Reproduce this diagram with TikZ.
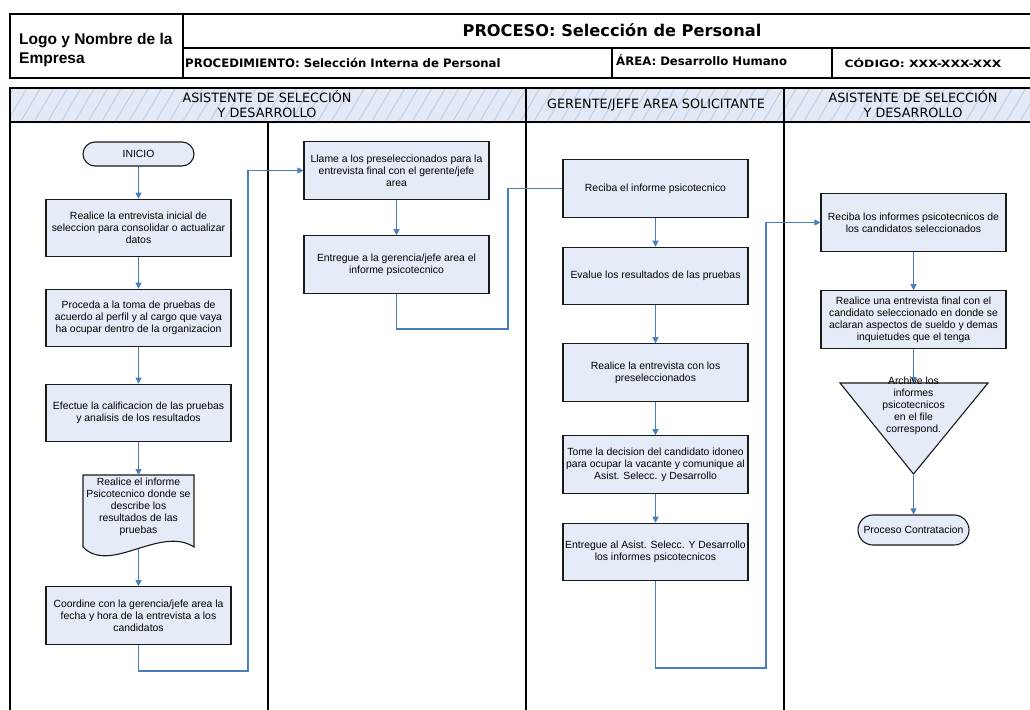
\documentclass[tikz,border=0pt]{standalone}
\usepackage{graphicx}
\usepackage{fontspec}
\setmainfont{Liberation Sans}
\newfontfamily\tah{DejaVu Sans}
\usetikzlibrary{arrows.meta}
\definecolor{boxfill}{HTML}{E6ECF7}
\definecolor{bandfill}{HTML}{E3EAF5}
\definecolor{hatchc}{HTML}{BFD0E8}
\definecolor{connc}{HTML}{4A7EBB}
\definecolor{framec}{HTML}{1A1A1A}
\begin{document}
\begin{tikzpicture}[x=1pt,y=-1pt,
  stepbox/.style={draw=framec,line width=1.1pt,fill=boxfill,minimum width=185pt,minimum height=57.5pt,inner sep=1pt,align=center,font=\fontsize{10.4}{12}\selectfont},
  term/.style={draw=framec,line width=1.1pt,fill=boxfill,minimum width=111pt,inner sep=1pt,align=center,font=\fontsize{10.4}{12}\selectfont},
  shapeline/.style={draw=framec,line width=1.1pt,fill=boxfill},
  flow/.style={draw=connc,line width=1.1pt},
  arr/.style={-{Triangle[length=6pt,width=6pt]}},
  lane/.style={draw=black,line width=1.3pt},
  plain/.style={inner sep=0pt,align=center},
  lanehead/.style={plain,font=\tah\fontsize{12.8}{14.5}\selectfont}]
\useasboundingbox (0,0) rectangle (1030,709);
\fill[white] (0,0) rectangle (1030,709);

% ---------- header ----------
\draw[lane] (10,14) rectangle (1034,78);
\draw[lane] (183,14) -- (183,78);
\draw[lane] (183,48) -- (1034,48);
\draw[lane] (612,48) -- (612,78);
\draw[lane] (832,48) -- (832,78);
\node[plain,anchor=west,align=left,font=\bfseries\fontsize{15.5}{18.5}\selectfont] (logo) at (19,50) {Logo y Nombre de la\\Empresa};
\node[plain,anchor=base,font=\tah\bfseries\fontsize{16.2}{19}\selectfont] (title) at (612,37) {PROCESO: Selección de Personal};
\node[plain,anchor=base west,font=\tah\bfseries\fontsize{11.7}{14}\selectfont] (proc) at (185,67) {PROCEDIMIENTO: Selección Interna de Personal};
\node[plain,anchor=base west,font=\tah\bfseries\fontsize{11.7}{14}\selectfont] (area) at (616,66) {ÁREA: Desarrollo Humano};
\node[plain,anchor=base,font=\tah\bfseries\fontsize{10}{12}\selectfont] (cod) at (923,67) {\scalebox{1.24}[1]{CÓDIGO: XXX-XXX-XXX}};

% ---------- lane band ----------
\begin{scope}
  \clip (10,88) rectangle (1034,122);
  \fill[bandfill] (10,88) rectangle (1034,122);
  \foreach \i in {0,...,80} \draw[hatchc,line width=1pt] ({\i*13.5-20},122) -- ({\i*13.5},88);
\end{scope}
\draw[lane] (10,88) rectangle (1034,122);
\draw[lane] (526,88) -- (526,122);
\draw[lane] (784,88) -- (784,122);
\draw[lane] (10,122) -- (10,712);
\draw[lane] (268,122) -- (268,712);
\draw[lane] (526,122) -- (526,712);
\draw[lane] (784,122) -- (784,712);
\node[lanehead] (h1) at (267,104) {ASISTENTE DE SELECCIÓN\\Y DESARROLLO};
\node[lanehead] (h2) at (656,105) {GERENTE/JEFE AREA SOLICITANTE};
\node[lanehead] (h3) at (913,104) {ASISTENTE DE SELECCIÓN\\Y DESARROLLO};

% ---------- lane 1 ----------
\node[term,minimum height=24pt,rounded corners=12pt] (ini) at (138.5,154) {INICIO};
\node[stepbox] (b1) at (138.5,228) {Realice la entrevista inicial de\\seleccion para consolidar o actualizar\\datos};
\node[stepbox] (b2) at (138.5,318) {Proceda a la toma de pruebas de\\acuerdo al perfil y al cargo que vaya\\ha ocupar dentro de la organizacion};
\node[stepbox] (b3) at (138.5,413) {Efectue la calificacion de las pruebas\\y analisis de los resultados};
\draw[shapeline] (83,547) -- (83,475) -- (194,475) -- (194,547) .. controls (160,525) and (110,575) .. (83,547) -- cycle;
\coordinate (doctop) at (138.5,475);
\coordinate (docbot) at (138.5,549);
\node[plain,font=\fontsize{10.4}{12}\selectfont] (doctext) at (138.5,507) {Realice el informe\\Psicotecnico donde se\\describe los\\resultados de las\\pruebas};
\node[stepbox] (b5) at (138.5,615.5) {Coordine con la gerencia/jefe area la\\fecha y hora de la entrevista a los\\candidatos};

% ---------- lane 2 ----------
\node[stepbox] (llame) at (396.5,170.5) {Llame a los preseleccionados para la\\entrevista final con el gerente/jefe\\area};
\node[stepbox] (ent1) at (396.5,264.5) {Entregue a la gerencia/jefe area el\\informe psicotecnico};

% ---------- lane 3 ----------
\node[stepbox] (rec) at (655.5,188.5) {Reciba el informe psicotecnico};
\node[stepbox] (eva) at (655.5,276) {Evalue los resultados de las pruebas};
\node[stepbox] (rea) at (655.5,372.5) {Realice la entrevista con los\\preseleccionados};
\node[stepbox] (tome) at (655.5,464.5) {Tome la decision del candidato idoneo\\para ocupar la vacante y comunique al\\Asist. Selecc. y Desarrollo};
\node[stepbox] (ent2) at (655.5,552) {Entregue al Asist. Selecc. Y Desarrollo\\los informes psicotecnicos};

% ---------- lane 4 ----------
\node[stepbox] (recl) at (913.5,222.5) {Reciba los informes psicotecnicos de\\los candidatos seleccionados};
\node[stepbox] (rf) at (913.5,319.5) {Realice una entrevista final con el\\candidato seleccionado en donde se\\aclaran aspectos de sueldo y demas\\inquietudes que el tenga};
\draw[shapeline] (840,383) -- (988,383) -- (913.5,474) -- cycle;
\coordinate (tritop) at (913.5,383);
\coordinate (triapex) at (913.5,474);
\node[term,minimum height=30pt,rounded corners=15pt] (pc) at (913.5,530) {Proceso Contratacion};

% ---------- connectors ----------
\draw[flow,arr] (ini) -- (b1);
\draw[flow,arr] (b1) -- (b2);
\draw[flow,arr] (b2) -- (b3);
\draw[flow,arr] (b3) -- (doctop);
\draw[flow,arr] (docbot) -- (b5);
\coordinate (j1) at (248,671);
\draw[flow,arr] (b5.south) |- (j1) |- (llame.west);
\draw[flow,arr] (llame) -- (ent1);
\coordinate (j2) at (508,329);
\draw[flow] (ent1.south) |- (j2) |- (rec.west);
\draw[flow,arr] (rec) -- (eva);
\draw[flow,arr] (eva) -- (rea);
\draw[flow,arr] (rea) -- (tome);
\draw[flow,arr] (tome) -- (ent2);
\coordinate (j3) at (766,668);
\draw[flow,arr] (ent2.south) |- (j3) |- (recl.west);
\draw[flow,arr] (recl) -- (rf);
\draw[flow,arr] (rf) -- (tritop);
\draw[flow,arr] (triapex) -- (pc);
\node[plain,font=\fontsize{10.4}{12}\selectfont] (tritext) at (913.5,406) {Archive los\\informes\\psicotecnicos\\en el file\\correspond.};
\end{tikzpicture}
\end{document}
